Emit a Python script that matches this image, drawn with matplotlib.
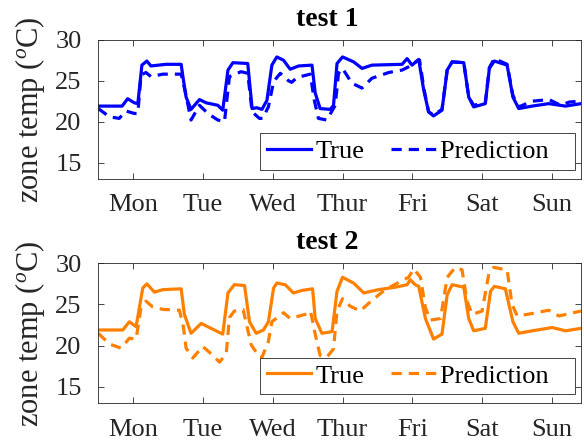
import matplotlib
matplotlib.use("Agg")
import matplotlib.pyplot as plt

plt.rcParams['font.family'] = ['Liberation Serif', 'DejaVu Serif']
plt.rcParams['mathtext.fontset'] = 'custom'
plt.rcParams['mathtext.rm'] = 'Liberation Serif'
plt.rcParams['mathtext.it'] = 'Liberation Serif:italic'

days = ['Mon', 'Tue', 'Wed', 'Thur', 'Fri', 'Sat', 'Sun']
day_ticks = [12, 36, 60, 84, 108, 132, 156]  # noon of each day, in hours

# test 1 (hours, zone temp)
hrs_true1 = [0, 8.2, 10.1, 12.4, 13.6, 15.0, 16.7, 18.1, 23.3, 28.5, 29.1, 30.2, 31.9, 34.8, 37.1,
             41.1, 42.8, 44.6, 46.3, 51.4, 52.9, 54.5, 56.3, 58.0, 59.7, 61.4, 63.7, 66.0, 68.9,
             73.5, 74.6, 76.3, 79.8, 80.9, 82.1, 84.0, 87.8, 90.7, 94.1, 104.5, 106.2, 107.9,
             110.2, 111.9, 113.6, 115.3, 118.2, 120.0, 121.7, 125.7, 127.4, 129.1, 133.1, 134.5,
             136.2, 140.6, 142.6, 144.6, 149.2, 154.9, 160.7, 166]
temp_true1 = [21.9, 21.9, 22.8, 22.3, 22.2, 26.9, 27.4, 26.8, 27.0, 27.0, 25.5, 23.0, 21.5, 22.7, 22.3,
              22.0, 21.4, 26.3, 27.2, 27.1, 21.6, 21.7, 21.5, 22.6, 26.9, 27.9, 27.5, 26.4, 26.8,
              26.9, 23.5, 21.6, 21.5, 22.0, 27.1, 27.9, 27.3, 26.5, 26.9, 27.0, 27.7, 26.9,
              27.6, 23.9, 21.2, 20.7, 21.4, 26.3, 27.3, 27.2, 23.0, 21.8, 22.2, 26.5,
              27.4, 26.9, 23.0, 21.6, 21.9, 22.2, 21.9, 22.2]
hrs_pred1 = [0, 3.8, 7.2, 9.5, 12.4, 13.6, 14.7, 16.4, 18.1, 22.2, 28.5, 30.0, 31.9, 34.8, 37.7,
             41.1, 43.4, 45.1, 49.1, 51.4, 52.9, 55.4, 56.5, 58.5, 60.3, 62.6, 65.4, 66.5, 68.4,
             72.9, 74.3, 75.7, 78.6, 81.5, 82.6, 84.0, 87.2, 90.7, 94.1, 99.9, 104.5, 107.3,
             109.6, 110.5, 112.0, 113.6, 115.3, 118.2, 120.0, 121.7, 125.7, 127.4, 129.1, 133.1,
             134.5, 136.2, 140.6, 142.6, 144.6, 149.2, 155.0, 159.0, 162.0, 166]
temp_pred1 = [21.6, 20.6, 20.4, 21.3, 21.0, 21.0, 25.7, 26.0, 25.5, 25.8, 25.8, 23.5, 20.2, 22.0, 21.0,
              20.2, 20.0, 25.5, 26.1, 25.9, 21.2, 20.4, 20.4, 21.8, 24.9, 25.9, 25.0, 24.8, 25.4,
              25.8, 22.6, 20.4, 20.2, 22.0, 25.9, 26.5, 24.7, 24.1, 25.3, 26.0, 26.3, 26.8,
              27.4, 27.5, 24.0, 21.2, 20.8, 21.5, 26.3, 27.3, 27.2, 23.0, 22.0, 22.3,
              26.6, 27.7, 27.0, 23.2, 21.8, 22.5, 22.7, 22.0, 22.4, 22.5]

# test 2 (hours, zone temp)
hrs_true2 = [0, 8.4, 10.7, 13.0, 15.3, 16.7, 19.3, 22.2, 28.5, 29.6, 31.9, 35.4, 38.2, 42.8, 44.6,
             46.8, 50.3, 52.0, 54.3, 56.8, 58.5, 60.3, 61.4, 64.3, 67.1, 70.0, 73.7, 74.6, 76.9,
             80.4, 82.1, 84.0, 87.8, 91.3, 96.4, 102.2, 106.2, 107.3, 109.0, 110.2, 112.5, 115.3,
             118.2, 120.0, 121.7, 125.7, 127.4, 129.1, 133.1, 134.9, 136.2, 140.0, 142.6, 144.6,
             149.2, 156.1, 160.7, 166]
temp_true2 = [21.9, 21.9, 22.9, 22.3, 27.0, 27.5, 26.5, 26.8, 26.9, 23.8, 21.5, 22.7, 22.2, 21.4, 26.4,
              27.4, 27.3, 22.9, 21.5, 21.9, 22.9, 27.0, 27.6, 27.4, 26.4, 26.7, 26.9, 23.3, 21.5,
              21.7, 26.6, 28.3, 27.6, 26.4, 26.8, 27.1, 27.4, 28.0, 27.4, 27.2, 23.3, 20.8,
              21.4, 26.2, 27.4, 27.1, 23.3, 21.8, 22.1, 26.6, 27.2, 26.9, 22.9, 21.5,
              21.8, 22.2, 21.8, 22.1]
hrs_pred2 = [0, 3.8, 7.8, 10.7, 13.0, 14.7, 16.4, 18.7, 22.2, 27.9, 29.3, 30.2, 32.5, 35.9, 38.2,
             41.7, 44.0, 45.1, 46.8, 49.8, 52.6, 55.4, 56.3, 58.5, 59.7, 63.7, 66.0, 71.2, 73.0,
             74.6, 76.3, 78.6, 80.9, 82.1, 84.0, 86.6, 90.1, 94.1, 98.7, 104.5, 106.7, 108.5,
             110.8, 112.5, 114.2, 117.7, 120.0, 122.8, 125.1, 126.8, 128.6, 132.0, 134.3, 136.0,
             140.6, 142.3, 144.1, 149.2, 154.9, 158.4, 166]
temp_pred2 = [21.5, 20.2, 19.7, 20.9, 20.8, 24.6, 25.4, 24.7, 24.4, 24.3, 22.2, 19.7, 18.5, 19.9, 19.2,
              18.0, 19.0, 23.4, 24.2, 24.4, 20.1, 18.6, 18.6, 20.5, 22.9, 24.0, 23.3, 23.8, 24.2,
              21.4, 18.8, 18.6, 19.6, 24.2, 25.7, 24.8, 24.2, 25.5, 26.8, 27.9, 28.3, 29.3,
              28.3, 24.6, 23.1, 23.3, 28.3, 29.5, 29.2, 25.4, 23.8, 24.2, 28.7, 29.5,
              29.2, 25.0, 23.6, 23.9, 24.3, 23.6, 24.2]

blue = '#0000ff'
orange = '#ff8000'
dash = (0, (3.2, 2.2))

fig = plt.figure(figsize=(5.84, 4.44), dpi=100)
ax1 = fig.add_axes([0.1683, 0.5968, 0.8265, 0.3137])
ax2 = fig.add_axes([0.1683, 0.0917, 0.8265, 0.3153])

panels = [
    (ax1, 'test 1', blue, hrs_true1, temp_true1, hrs_pred1, temp_pred1),
    (ax2, 'test 2', orange, hrs_true2, temp_true2, hrs_pred2, temp_pred2),
]

for ax, name, col, ht, tt, hp, tp in panels:
    ax.plot(ht, tt, color=col, lw=2.3, label='True')
    ax.plot(hp, tp, color=col, lw=2.3, linestyle=dash, label='Prediction   ')
    ax.set_xlim(0, 166)
    ax.set_ylim(13, 30)
    ax.set_xticks(day_ticks)
    ax.set_xticklabels(days)
    ax.set_yticks([15, 20, 25, 30])
    ax.tick_params(direction='in', top=True, right=True, length=4, width=0.6,
                   labelsize=19, colors='#262626', labelcolor='#262626')
    ax.tick_params(axis='y', pad=12)
    ax.tick_params(axis='x', pad=11)
    for sp in ax.spines.values():
        sp.set_color('#262626')
        sp.set_linewidth(0.6)
    ax.set_title(name, fontsize=20, fontweight='bold', x=0.474, pad=10)
    ax.set_ylabel(r'zone temp ($^o$C)', fontsize=22, color='#262626', labelpad=6)
    leg = ax.legend(loc='lower right', bbox_to_anchor=(0.988, 0.065), ncol=2, fontsize=19,
                    frameon=True, fancybox=False, framealpha=1, edgecolor='#262626',
                    borderpad=0.25, borderaxespad=0, handlelength=1.7, handletextpad=0.16,
                    columnspacing=1.0)
    leg.get_frame().set_linewidth(0.6)

fig.savefig('out.png', dpi=100)
